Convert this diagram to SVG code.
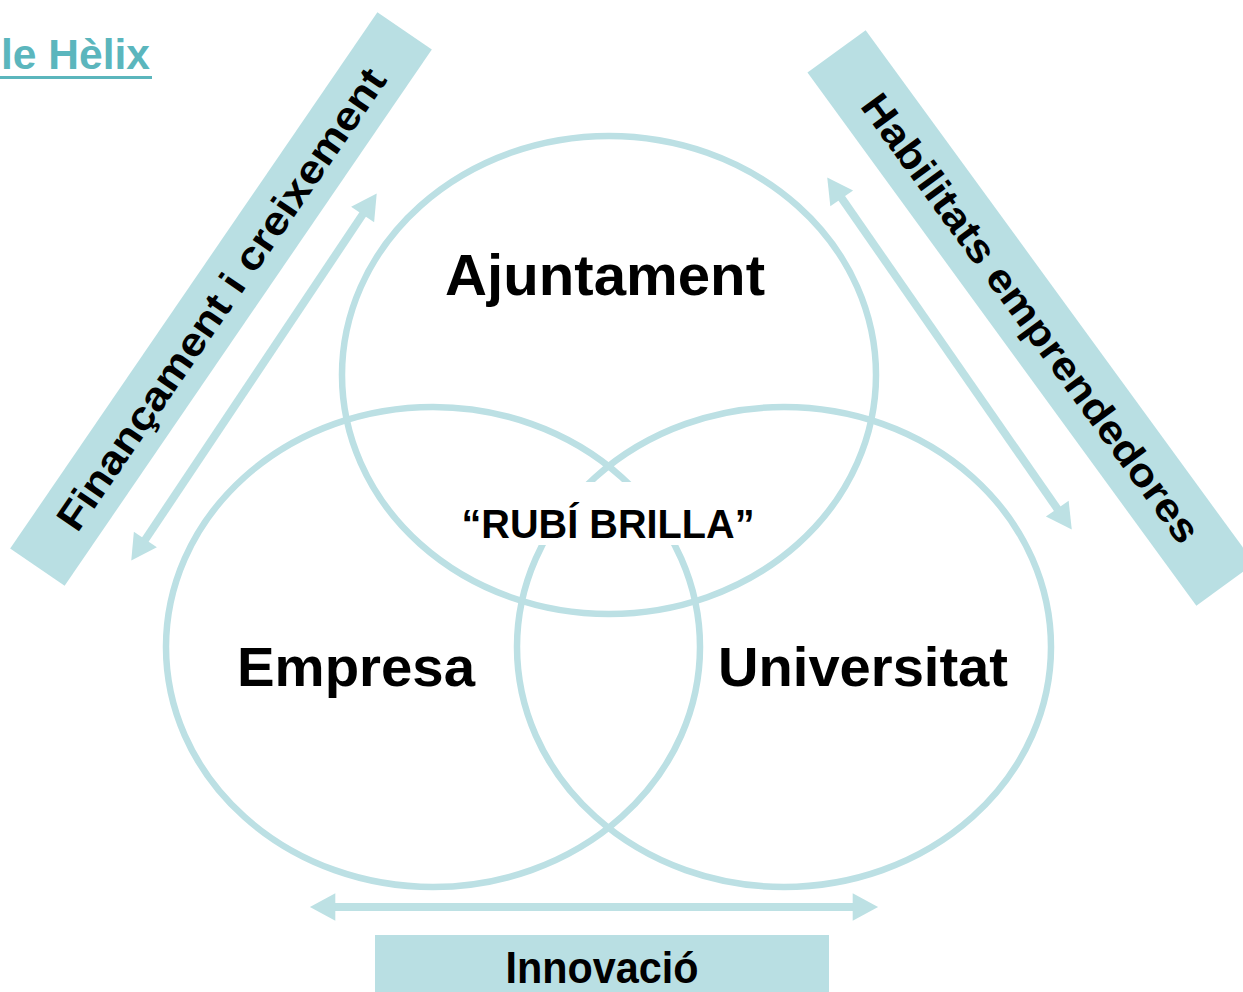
<svg xmlns="http://www.w3.org/2000/svg" width="1243" height="992" viewBox="0 0 1243 992">
<style>
.band{fill:#b9dfe3}
.ring{fill:none;stroke:#bce0e4;stroke-width:6.5}
.arr{stroke:#bde1e4;stroke-width:8;fill:none}
.lbl{font-family:"Liberation Sans",Arial,sans-serif;font-weight:bold;fill:#000}
</style>
<defs>
<marker id="ah" markerUnits="userSpaceOnUse" markerWidth="30" markerHeight="30" viewBox="0 -13 24 26" refX="2" refY="0" orient="auto-start-reverse">
<path d="M0,-12 L22,0 L0,12 Z" fill="#bde1e4"/>
</marker>
</defs>
<rect width="1243" height="992" fill="#fff"/>
<g id="title">
<text x="1" y="69" font-family="Liberation Sans,Arial,sans-serif" font-weight="bold" font-size="42" fill="#5bb6bd" textLength="149" lengthAdjust="spacingAndGlyphs">le Hèlix</text>
<rect x="0" y="76" width="152" height="3" fill="#5bb6bd"/>
</g>
<g id="band-left" transform="translate(221,299) rotate(-55.6)">
<rect class="band" x="-325" y="-33" width="650" height="66"/>
<text class="lbl" x="0" y="14" font-size="40" text-anchor="middle" textLength="550" lengthAdjust="spacingAndGlyphs">Finançament i creixement</text>
</g>
<g id="band-right" transform="translate(1031,318) rotate(53.9)">
<rect class="band" x="-330" y="-36" width="660" height="72"/>
<text class="lbl" x="0" y="14" font-size="40" text-anchor="middle" textLength="545" lengthAdjust="spacingAndGlyphs">Habilitats emprendedores</text>
</g>
<g id="band-bottom">
<rect class="band" x="375" y="935" width="454" height="60"/>
<text class="lbl" x="602" y="983" font-size="45" text-anchor="middle" textLength="193" lengthAdjust="spacingAndGlyphs">Innovació</text>
</g>
<g id="connectors">
<line class="arr" x1="144.1" y1="541.4" x2="363.9" y2="212.6" marker-start="url(#ah)" marker-end="url(#ah)"/>
<line class="arr" x1="840.4" y1="196.4" x2="1058.6" y2="510.6" marker-start="url(#ah)" marker-end="url(#ah)"/>
<line class="arr" x1="333" y1="907" x2="855" y2="907" marker-start="url(#ah)" marker-end="url(#ah)"/>
</g>
<g id="ajuntament">
<ellipse class="ring" cx="609" cy="375" rx="267" ry="239"/>
<text class="lbl" x="605" y="295" font-size="58" text-anchor="middle" textLength="320" lengthAdjust="spacingAndGlyphs">Ajuntament</text>
</g>
<g id="empresa">
<ellipse class="ring" cx="433" cy="647" rx="267" ry="240"/>
<text class="lbl" x="237" y="686" font-size="56" textLength="238" lengthAdjust="spacingAndGlyphs">Empresa</text>
</g>
<g id="universitat">
<ellipse class="ring" cx="784" cy="647" rx="267" ry="240"/>
<text class="lbl" x="718" y="686" font-size="56" textLength="290" lengthAdjust="spacingAndGlyphs">Universitat</text>
</g>
<g id="rubi-brilla">
<rect x="452" y="482" width="316" height="63" fill="#fff"/>
<text class="lbl" x="608" y="538" font-size="41" text-anchor="middle" textLength="293" lengthAdjust="spacingAndGlyphs">“RUBÍ BRILLA”</text>
</g>
</svg>
